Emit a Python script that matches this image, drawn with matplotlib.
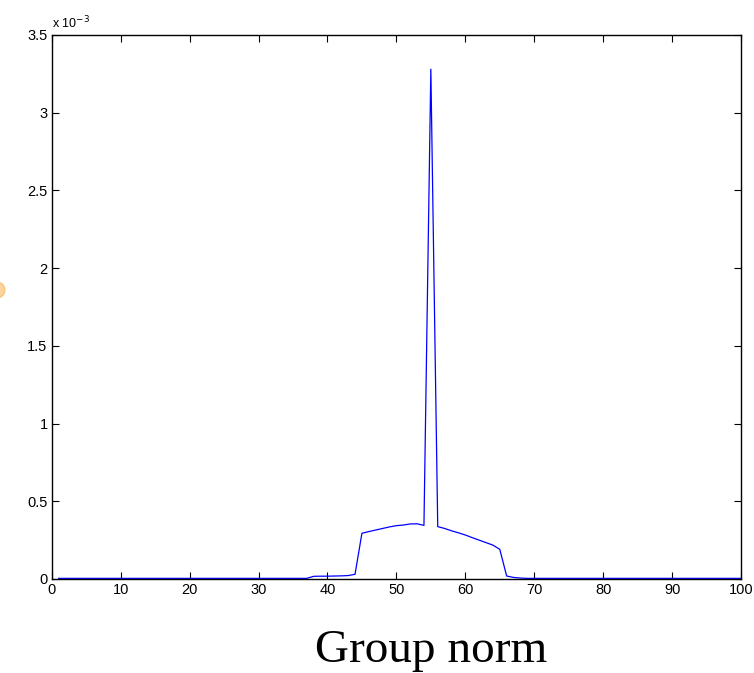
import numpy as np
import matplotlib.pyplot as plt
from matplotlib.ticker import FuncFormatter
from matplotlib.patches import Circle

plt.rcParams['font.family'] = ['Liberation Sans', 'DejaVu Sans']

# group norm values per index
x_vals = np.arange(1, 101)
y_vals = np.zeros(100)

tail_left = {38: 0.017e-3, 39: 0.018e-3, 40: 0.018e-3, 41: 0.019e-3, 42: 0.02e-3,
             43: 0.022e-3, 44: 0.03e-3}
plateau = {45: 0.294e-3, 46: 0.305e-3, 47: 0.315e-3, 48: 0.325e-3, 49: 0.335e-3,
           50: 0.343e-3, 51: 0.347e-3, 52: 0.354e-3, 53: 0.355e-3, 54: 0.345e-3,
           55: 3.28e-3,
           56: 0.337e-3, 57: 0.325e-3, 58: 0.31e-3, 59: 0.297e-3, 60: 0.283e-3,
           61: 0.266e-3, 62: 0.25e-3, 63: 0.234e-3, 64: 0.218e-3, 65: 0.191e-3}
tail_right = {66: 0.019e-3, 67: 0.01e-3, 68: 0.006e-3}
base_level = 0.004e-3

for d in (tail_left, plateau, tail_right):
    for k, v in d.items():
        y_vals[k - 1] = v
y_vals[y_vals == 0] = base_level

fig = plt.figure(figsize=(7.54, 6.73), dpi=100)
ax = fig.add_axes([0.0686, 0.1397, 0.9142, 0.8083])

ax.plot(x_vals, y_vals, color='blue', lw=0.9)

ax.set_xlim(0, 100)
ax.set_ylim(0, 3.5e-3)
ax.set_xticks(np.arange(0, 101, 10))
ax.set_yticks(np.arange(0, 3.51e-3, 0.5e-3))
ax.yaxis.set_major_formatter(FuncFormatter(lambda v, p: '%g' % round(v * 1e3, 3)))

ax.tick_params(direction='in', top=True, right=True, length=5, width=0.8,
               labelsize=10.5, pad=3)
for s in ax.spines.values():
    s.set_linewidth(1.0)

fig.text(0.0686, 0.953, r'x 10$^{-3}$', fontsize=9, ha='left', va='bottom')

fig.text(0.572, 0.0163, 'Group norm', fontsize=34, family='Liberation Serif',
         ha='center', va='baseline')

# stray orange blob at the left edge
fig.patches.append(Circle((-3, 673 - 290), 8, transform=None, color='#f9b65a',
                          alpha=0.6, clip_on=False))

fig.savefig('out.png', dpi=100)
